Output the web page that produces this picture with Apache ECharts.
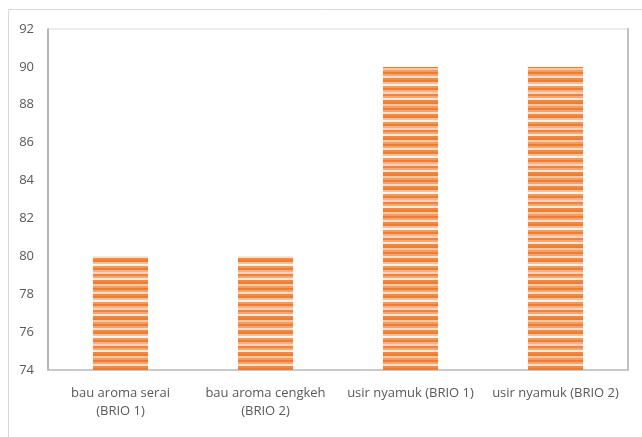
<!DOCTYPE html>
<html>
<head>
<meta charset="utf-8">
<script src="https://cdn.jsdelivr.net/npm/echarts@6/dist/echarts.min.js"></script>
<style>
  html, body { margin: 0; padding: 0; background: #fff; }
  #chart { width: 642px; height: 437px; }
</style>
</head>
<body>
<div id="chart"></div>
<script>
// Scores per category
const categories = [
  'bau aroma serai\n(BRIO 1)',
  'bau aroma cengkeh\n(BRIO 2)',
  'usir nyamuk (BRIO 1)',
  'usir nyamuk (BRIO 2)'
];
const scores = [80, 80, 90, 90];
const yTicks = { min: 74, max: 92, step: 2 };

// Horizontal-stripe fill in orange tones
function stripeFill() {
  const rows = ['#ee7d32', '#f4a470', '#fbe0cc', '#f08a45', '#ee7d32', '#f7bf98',
                '#fff3ea', '#f29a5e', '#ee7d32', '#f6b286', '#f9d4ba', '#ef8440',
                '#f4a775', '#fde9db', '#f0883f', '#ee7d32', '#f8c8a6', '#f39d63'];
  const c = document.createElement('canvas');
  c.width = 4;
  c.height = rows.length * 2;
  const ctx = c.getContext('2d');
  rows.forEach((col, i) => {
    ctx.fillStyle = col;
    ctx.fillRect(0, i * 2, 4, 2);
  });
  return c;
}

const chart = echarts.init(document.getElementById('chart'), null, { renderer: 'canvas' });
const labelFont = { color: '#595959', fontSize: 13, fontFamily: 'Open Sans' };

chart.setOption({
  animation: false,
  backgroundColor: '#fff',
  graphic: [{
    type: 'rect',
    left: 6, top: 7,
    shape: { width: 660, height: 460 },
    style: { fill: 'none', stroke: '#d9d9d9', lineWidth: 1 },
    z: -1
  }],
  grid: {
    left: 48, top: 29, right: 14, bottom: 67,
    show: true, borderColor: '#d9d9d9', borderWidth: 1
  },
  xAxis: {
    type: 'category',
    data: categories,
    axisTick: { show: false },
    axisLine: { show: true, lineStyle: { color: '#bfbfbf', width: 1.5 } },
    axisLabel: Object.assign({ margin: 14, interval: 0, lineHeight: 18 }, labelFont)
  },
  yAxis: [{
    type: 'value',
    min: yTicks.min, max: yTicks.max, interval: yTicks.step,
    axisLine: { show: true, lineStyle: { color: '#a6a6a6', width: 1.5 } },
    axisTick: { show: false },
    splitLine: { show: false },
    axisLabel: Object.assign({ margin: 14 }, labelFont)
  }, {
    type: 'value',
    position: 'right',
    min: yTicks.min, max: yTicks.max, interval: yTicks.step,
    axisLine: { show: true, lineStyle: { color: '#bfbfbf', width: 2 } },
    axisTick: { show: false },
    axisLabel: { show: false },
    splitLine: { show: false }
  }],
  series: [{
    type: 'bar',
    data: scores,
    barWidth: '38%',
    itemStyle: { color: { image: stripeFill(), repeat: 'repeat' } }
  }]
});
</script>
</body>
</html>
